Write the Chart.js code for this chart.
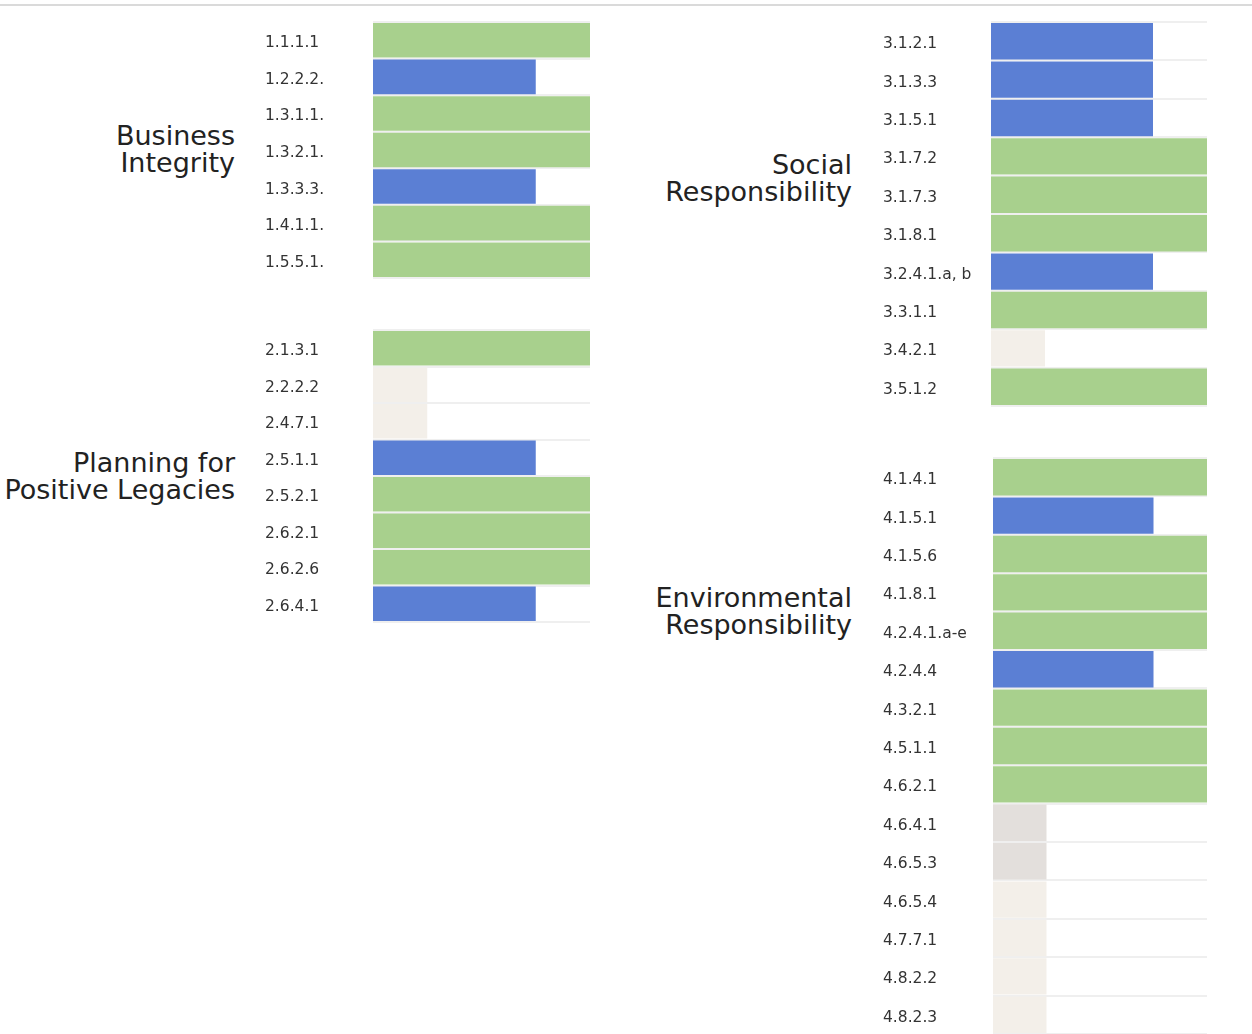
<!DOCTYPE html>
<html lang="en">
<head>
<meta charset="UTF-8">
<title>Criteria scores by area</title>
<script src="https://cdn.jsdelivr.net/npm/chart.js"></script>
<style>
    body {
        margin: 0;
        background: #ffffff;
        font-family: 'DejaVu Sans', sans-serif;
        width: 1252px;
        height: 1034px;
        overflow: hidden;
        position: relative;
    }
    .topline {
        position: absolute;
        left: 0; top: 4px;
        width: 1252px; height: 2px;
        background: #dadada;
    }
    .panel {
        position: absolute;
    }
    .group-title {
        position: absolute;
        text-align: right;
        font-size: 27px;
        line-height: 27px;
        color: #222;
        transform: translateY(-50%);
        white-space: nowrap;
    }
</style>
</head>
<body>
<div class="topline"></div>

<div class="group-title" style="right:1017px; top:149px;">Business<br>Integrity</div>
<div class="group-title" style="right:1017px; top:476px;">Planning for<br>Positive Legacies</div>
<div class="group-title" style="right:400px; top:178px;">Social<br>Responsibility</div>
<div class="group-title" style="right:400px; top:611px;">Environmental<br>Responsibility</div>

<div class="panel" style="left:265px; top:20px; width:326px; height:260px;"><canvas id="chartBI"></canvas></div>
<div class="panel" style="left:265px; top:328px; width:326px; height:296px;"><canvas id="chartPL"></canvas></div>
<div class="panel" style="left:883px; top:20px; width:325px; height:388px;"><canvas id="chartSR"></canvas></div>
<div class="panel" style="left:883px; top:456px; width:325px; height:580px;"><canvas id="chartER"></canvas></div>

<script>
// scores: 4 = met, 3 = partially met, 1 = not yet / not applicable
const biCodes = ['1.1.1.1', '1.2.2.2.', '1.3.1.1.', '1.3.2.1.', '1.3.3.3.', '1.4.1.1.', '1.5.5.1.'];
const biScores = [4, 3, 4, 4, 3, 4, 4];
const biStatus = ['met', 'partial', 'met', 'met', 'partial', 'met', 'met'];

const plCodes = ['2.1.3.1', '2.2.2.2', '2.4.7.1', '2.5.1.1', '2.5.2.1', '2.6.2.1', '2.6.2.6', '2.6.4.1'];
const plScores = [4, 1, 1, 3, 4, 4, 4, 3];
const plStatus = ['met', 'pending', 'pending', 'partial', 'met', 'met', 'met', 'partial'];

const srCodes = ['3.1.2.1', '3.1.3.3', '3.1.5.1', '3.1.7.2', '3.1.7.3', '3.1.8.1', '3.2.4.1.a, b', '3.3.1.1', '3.4.2.1', '3.5.1.2'];
const srScores = [3, 3, 3, 4, 4, 4, 3, 4, 1, 4];
const srStatus = ['partial', 'partial', 'partial', 'met', 'met', 'met', 'partial', 'met', 'pending', 'met'];

const erCodes = ['4.1.4.1', '4.1.5.1', '4.1.5.6', '4.1.8.1', '4.2.4.1.a-e', '4.2.4.4', '4.3.2.1', '4.5.1.1', '4.6.2.1',
    '4.6.4.1', '4.6.5.3', '4.6.5.4', '4.7.7.1', '4.8.2.2', '4.8.2.3'];
const erScores = [4, 3, 4, 4, 4, 3, 4, 4, 4, 1, 1, 1, 1, 1, 1];
const erStatus = ['met', 'partial', 'met', 'met', 'met', 'partial', 'met', 'met', 'met',
    'na', 'na', 'pending', 'pending', 'pending', 'pending'];

const maxScore = 4;

const statusColors = {
    met: '#a8d08d',
    partial: '#5b7fd4',
    pending: '#f3efe9',
    na: '#e3dfdc'
};

function makePanel(id, codes, scores, status, axisWidth, rowHeight) {
    const ctx = document.getElementById(id).getContext('2d');
    return new Chart(ctx, {
        type: 'bar',
        data: {
            labels: codes,
            datasets: [{
                data: scores,
                backgroundColor: status.map(s => statusColors[s]),
                borderWidth: 0,
                categoryPercentage: 1,
                barPercentage: 1 - 2 / rowHeight
            }]
        },
        options: {
            indexAxis: 'y',
            responsive: true,
            maintainAspectRatio: false,
            animation: false,
            layout: { padding: { top: 2, bottom: 2, right: 1, left: 0 } },
            plugins: {
                legend: { display: false },
                tooltip: { enabled: false }
            },
            scales: {
                x: {
                    display: false,
                    min: 0,
                    max: maxScore
                },
                y: {
                    afterFit: axis => {
                        axis.width = axisWidth;
                        // labels sit inside their rows, no extra room needed
                        axis.paddingTop = 0;
                        axis.paddingBottom = 0;
                    },
                    border: { display: false },
                    grid: {
                        offset: true,
                        color: '#efefef',
                        lineWidth: 2,
                        drawTicks: false
                    },
                    ticks: {
                        crossAlign: 'far',
                        padding: 0,
                        labelOffset: 3,
                        color: '#333',
                        font: { family: "'DejaVu Sans', sans-serif", size: 15.5 }
                    }
                }
            }
        }
    });
}

makePanel('chartBI', biCodes, biScores, biStatus, 108, 36.6);
makePanel('chartPL', plCodes, plScores, plStatus, 108, 36.5);
makePanel('chartSR', srCodes, srScores, srStatus, 108, 38.4);
makePanel('chartER', erCodes, erScores, erStatus, 110, 38.4);
</script>
</body>
</html>
